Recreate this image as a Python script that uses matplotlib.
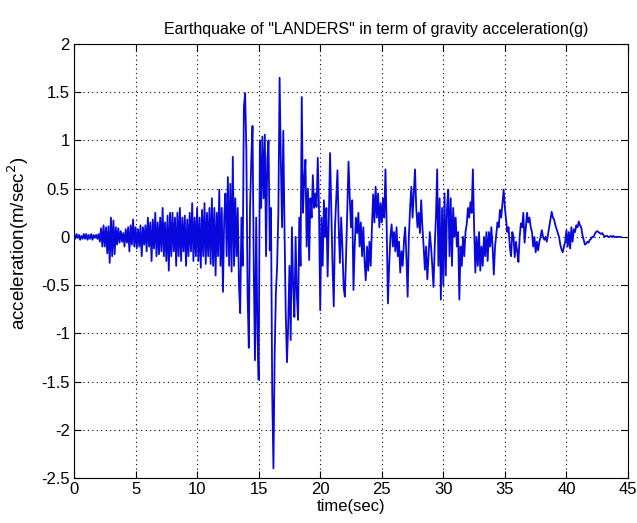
import numpy as np
import matplotlib
matplotlib.use("Agg")
import matplotlib.pyplot as plt

plt.rcParams['font.family'] = ['Liberation Sans', 'DejaVu Sans']
plt.rcParams['axes.unicode_minus'] = False

dt = 0.1  # sample spacing (s)
acc = [
    0.02,-0.02,0.03,-0.01,0.02,-0.03,0.01,-0.02,0.03,-0.02,
    0.03,-0.03,0.02,-0.02,0.03,-0.03,0.02,-0.01,0.02,-0.02,
    0.03,-0.05,0.09,-0.10,0.12,-0.10,0.10,-0.17,0.11,-0.27,
    0.20,-0.20,0.17,-0.18,0.10,-0.08,0.09,-0.06,0.06,-0.05,
    0.04,-0.10,0.08,-0.06,0.10,-0.15,0.12,-0.08,0.18,-0.10,
    0.10,-0.12,0.08,-0.10,0.12,-0.20,0.10,-0.08,0.12,-0.15,
    0.20,-0.10,0.15,-0.25,0.18,-0.12,0.25,-0.20,0.15,-0.18,
    0.20,-0.15,0.30,-0.20,0.15,-0.25,0.22,-0.35,0.25,-0.20,
    0.25,-0.15,0.20,-0.30,0.25,-0.20,0.30,-0.25,0.20,-0.15,
    0.22,-0.30,0.18,-0.20,0.25,-0.15,0.35,-0.25,0.20,-0.20,
    0.30,-0.25,0.20,-0.32,0.28,-0.20,0.35,-0.28,0.25,-0.20,
    0.30,-0.28,0.40,-0.30,0.30,-0.40,0.25,-0.20,0.49,-0.30,
    0.30,-0.57,0.20,0.45,-0.20,0.62,-0.30,0.55,-0.36,0.83,
    -0.30,0.40,-0.20,0.30,-0.50,-0.79,0.20,-0.30,1.35,1.49,
    0.90,-0.60,-1.15,0.30,0.80,1.15,-0.30,-1.28,0.20,-1.00,
    -1.48,1.00,0.30,1.04,0.40,1.06,-0.20,0.80,1.00,-0.14,
    0.30,-1.62,-2.40,-1.20,-0.58,-0.30,0.25,1.65,0.80,0.10,
    1.10,0.07,-0.80,-1.30,-0.90,-0.30,-1.07,0.10,-0.50,-0.83,
    0.00,-0.60,-0.86,0.20,-0.30,1.45,0.25,0.60,0.80,-0.10,
    0.50,-0.24,0.40,0.20,0.64,0.30,0.45,0.31,0.82,0.30,
    -0.76,0.20,-0.30,0.38,0.00,0.30,-0.41,0.20,0.87,0.30,
    -0.30,-0.72,0.10,0.40,0.69,0.10,-0.27,0.20,-0.10,-0.52,
    -0.62,-0.20,0.30,0.78,0.40,0.10,0.38,-0.55,-0.10,0.20,
    0.04,0.25,-0.10,0.15,-0.20,0.10,-0.25,-0.45,-0.10,-0.35,
    -0.05,-0.30,0.10,0.44,0.15,0.52,0.20,0.45,0.10,0.35,
    0.15,0.40,0.20,0.70,0.10,-0.69,-0.30,0.00,0.13,-0.10,
    0.05,-0.15,0.10,-0.20,-0.05,-0.37,-0.15,-0.30,-0.05,0.10,
    -0.20,-0.62,0.00,0.30,0.52,0.20,0.45,0.70,0.30,0.10,
    0.25,0.04,0.38,0.10,-0.10,-0.34,-0.10,-0.44,-0.20,0.05,
    -0.10,-0.30,-0.52,-0.10,0.20,0.70,-0.30,0.40,-0.65,0.30,
    -0.50,0.45,-0.40,0.30,0.49,-0.20,0.40,-0.30,0.30,0.00,
    0.20,-0.10,0.05,-0.65,-0.10,-0.30,0.00,-0.20,0.05,0.13,
    0.30,0.20,0.36,0.25,0.70,0.10,-0.37,0.00,-0.30,0.05,
    -0.35,-0.10,-0.30,0.00,-0.20,0.05,-0.25,0.05,-0.10,0.10,
    -0.10,-0.39,-0.10,0.02,0.15,0.10,0.28,0.20,0.35,0.49,
    0.30,0.18,0.05,0.10,-0.10,-0.20,0.05,0.00,-0.21,-0.05,
    -0.15,-0.26,0.00,0.14,0.10,0.25,-0.06,0.10,0.25,0.15,
    0.20,0.10,0.05,-0.10,0.00,-0.16,-0.05,-0.14,-0.05,0.00,
    0.07,0.00,-0.03,0.00,-0.05,0.02,0.10,0.18,0.26,0.20,
    0.18,0.12,0.08,0.04,0.00,-0.08,-0.13,-0.16,-0.10,-0.05,
    0.07,-0.10,0.05,-0.12,0.10,-0.05,0.08,0.05,0.12,0.10,
    0.16,0.12,0.10,0.02,-0.03,-0.08,-0.07,-0.05,-0.06,-0.03,
    -0.02,0.00,0.00,0.03,0.05,0.06,0.05,0.04,0.03,0.04,
    0.02,0.00,0.01,0.01,0.00,0.00,0.01,0.00,0.01,0.00,
    0.00,0.00,0.00,0.00,0.00,
]
time = np.arange(len(acc)) * dt

xticks = [0, 5, 10, 15, 20, 25, 30, 35, 40, 45]
yticks = [-2.5, -2, -1.5, -1, -0.5, 0, 0.5, 1, 1.5, 2]
ytick_labels = ['-2.5', '-2', '-1.5', '-1', '-0.5', '0', '0.5', '1', '1.5', '2']

fig = plt.figure(figsize=(6.37, 5.23), dpi=100)
ax = fig.add_axes([74/637, 45/523, 554/637, 434/523])
ax.plot(time, acc, color='#0808dc', linewidth=1.3)

ax.set_xlim(0, 45)
ax.set_ylim(-2.5, 2)
ax.set_xticks(xticks)
ax.set_xticklabels([str(v) for v in xticks])
ax.set_yticks(yticks)
ax.set_yticklabels(ytick_labels)
ax.grid(True, color='black', linestyle=(0, (1, 3)), linewidth=0.8)
ax.tick_params(direction='in', top=True, right=True, length=5, labelsize=12, pad=3)
for s in ax.spines.values():
    s.set_linewidth(0.8)

ax.set_xlabel('time(sec)', fontsize=12, labelpad=1)
ax.set_ylabel('acceleration(m/sec$^2$)', fontsize=13.5, labelpad=2)
ax.yaxis.set_label_coords(-0.077, 0.54)
ax.set_title('Earthquake of "LANDERS" in term of gravity acceleration(g)',
             fontsize=11.5, pad=7, x=0.545)

fig.savefig('out.png', dpi=100)
